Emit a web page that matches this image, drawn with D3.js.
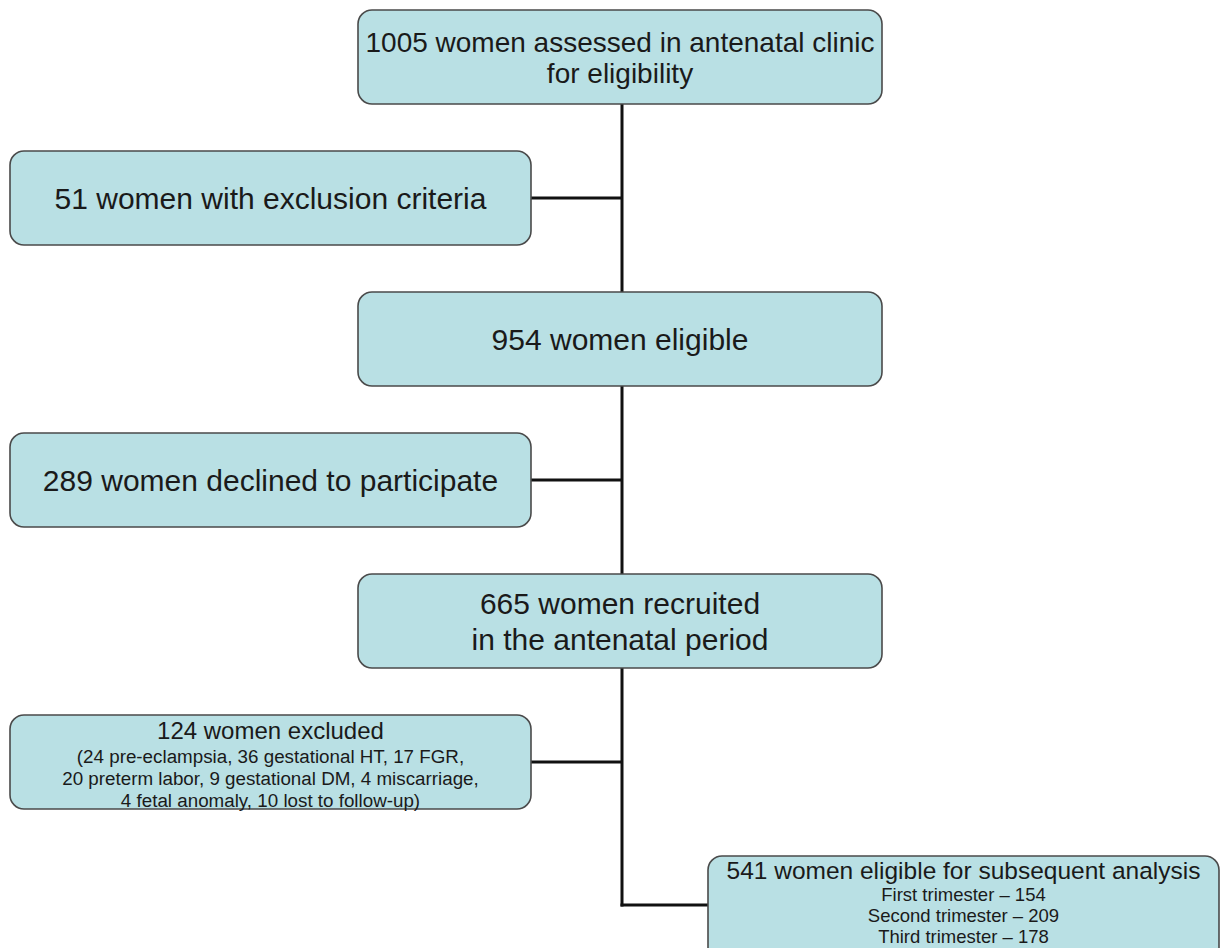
<!DOCTYPE html>
<html><head><meta charset="utf-8">
<script src="https://cdn.jsdelivr.net/npm/d3@7"></script>
<style>body{margin:0;background:#fff}svg{display:block}text{font-family:"Liberation Sans",Arial,sans-serif;fill:#1a1a1a}</style>
</head><body>
<script>
// Data
const stepIds = ["assessed","exclusion","eligible","declined","recruited","excluded","analysis"];
const stepTitles = [
  ["1005 women assessed in antenatal clinic","for eligibility"],
  ["51 women with exclusion criteria"],
  ["954 women eligible"],
  ["289 women declined to participate"],
  ["665 women recruited"," in the antenatal period"],
  ["124 women excluded"],
  ["541 women eligible for subsequent analysis"]
];
const stepDetails = [
  [],[],[],[],[],
  ["(24 pre-eclampsia, 36 gestational HT, 17 FGR,","20 preterm labor, 9 gestational DM, 4 miscarriage,","4 fetal anomaly, 10 lost to follow-up)"],
  ["First trimester \u2013 154","Second trimester \u2013 209","Third trimester \u2013 178"]
];
const stepColumn = ["main","side","main","side","main","side","final"];
const stepCounts = [1005, 51, 954, 289, 665, 124, 541];

const W = 1223, H = 948;
const svg = d3.select("body").append("svg").attr("width", W).attr("height", H);

const rowY = d3.scaleLinear().domain([0, stepIds.length - 1]).range([10, 856]);
const colX = d3.scaleOrdinal().domain(["side","main","final"]).range([10, 358, 708]);
const colW = d3.scaleOrdinal().domain(["side","main","final"]).range([521, 524, 511]);
const boxH = 94;
const spineX = 622;

const nodes = stepIds.map((id, i) => ({
  id, i, col: stepColumn[i], titles: stepTitles[i], details: stepDetails[i],
  x: colX(stepColumn[i]), y: rowY(i), w: colW(stepColumn[i]), h: i === 6 ? 112 : boxH
}));

// connectors
const lines = svg.append("g").attr("stroke", "#111").attr("stroke-width", 3).attr("fill", "none");
lines.append("line").attr("x1", spineX).attr("x2", spineX)
  .attr("y1", nodes[0].y + boxH).attr("y2", nodes[6].y + 50.5);
nodes.filter(n => n.col === "side").forEach(n => {
  lines.append("line").attr("x1", n.x + n.w).attr("x2", spineX)
    .attr("y1", n.y + n.h / 2).attr("y2", n.y + n.h / 2);
});
const fin = nodes[6];
lines.append("line").attr("x1", spineX - 1.5).attr("x2", fin.x)
  .attr("y1", fin.y + 49).attr("y2", fin.y + 49);

// boxes
const g = svg.selectAll("g.node").data(nodes).join("g").attr("class", "node");
g.append("rect")
  .attr("x", d => d.x).attr("y", d => d.y).attr("width", d => d.w).attr("height", d => d.h)
  .attr("rx", 14).attr("ry", 14)
  .attr("fill", "#b9e0e4").attr("stroke", "#4a4a4a").attr("stroke-width", 1.6);

g.each(function(d) {
  const sel = d3.select(this);
  const cx = d.x + d.w / 2;
  if (d.details.length === 0) {
    const fs = d.i === 0 ? 28 : 30;
    const lh = d.i === 0 ? 31 : 36;
    const n = d.titles.length;
    d.titles.forEach((t, k) => {
      sel.append("text").attr("x", cx).attr("text-anchor", "middle")
        .attr("y", d.y + d.h / 2 + (k - (n - 1) / 2) * lh + fs * 0.36)
        .style("font-size", fs + "px").text(t);
    });
  } else if (d.col === "side") {
    sel.append("text").attr("x", cx).attr("text-anchor", "middle")
      .attr("y", d.y + 24).style("font-size", "24px").text(d.titles[0]);
    d.details.forEach((t, k) => {
      sel.append("text").attr("x", cx).attr("text-anchor", "middle")
        .attr("y", d.y + 48 + k * 22).style("font-size", "18.8px").text(t);
    });
  } else {
    sel.append("text").attr("x", cx).attr("text-anchor", "middle")
      .attr("y", d.y + 23).style("font-size", "24.5px").text(d.titles[0]);
    d.details.forEach((t, k) => {
      sel.append("text").attr("x", cx).attr("text-anchor", "middle")
        .attr("y", d.y + 45 + k * 21).style("font-size", "18.5px").text(t);
    });
  }
});
</script>
</body></html>
